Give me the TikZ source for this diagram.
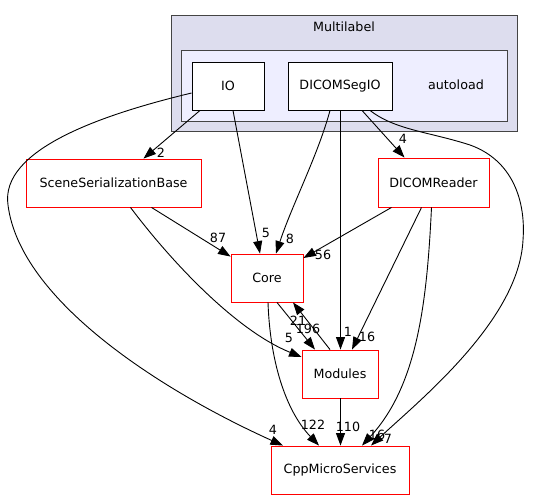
\documentclass[tikz,border=0pt]{standalone}
\usepackage{fontspec}
\setmainfont{DejaVu Sans}
\usetikzlibrary{arrows.meta}
\definecolor{outerfill}{HTML}{DDDDEE}
\definecolor{innerfill}{HTML}{EEEEFF}
\definecolor{clborder}{HTML}{444444}
\tikzset{
  txt/.style={font=\fontsize{12.7}{15}\selectfont, inner sep=0pt},
  dirbox/.style={txt, draw=red, fill=white, line width=0.9pt, minimum height=48pt},
  subbox/.style={txt, draw=black, fill=white, line width=0.9pt, minimum height=48pt},
  elabel/.style={txt},
  dep/.style={line width=0.9pt, -{Triangle[length=12.5pt,width=9pt]}},
}
\begin{document}
\begin{tikzpicture}[x=1pt,y=-1pt]
\useasboundingbox[fill=white] (0,0) rectangle (534,500);
% clusters
\draw[clborder, fill=outerfill, line width=1pt] (171,16) rectangle (517,131);
\node[txt] (multilabel) at (344,27) {Multilabel};
\draw[clborder, fill=innerfill, line width=1pt] (181,51) rectangle (507,121);
\node[txt] (autoload) at (456,85) {autoload};
% nodes
\node[subbox, minimum width=72pt] (io) at (228,86) {IO};
\node[subbox, minimum width=104pt] (dseg) at (340,86) {DICOMSegIO};
\node[dirbox, minimum width=175pt] (ssb) at (113.5,183) {SceneSerializationBase};
\node[dirbox, minimum width=111pt, minimum height=49pt] (dr) at (433.5,182.5) {DICOMReader};
\node[dirbox, minimum width=72pt] (core) at (267,278) {Core};
\node[dirbox, minimum width=76pt] (mod) at (340,374) {Modules};
\node[dirbox, minimum width=138pt] (cpp) at (340,470) {CppMicroServices};
% edges
\draw[dep] ([xshift=-28pt]io.south) -- ([xshift=30pt]ssb.north);
\draw[dep] ([xshift=5pt]io.south) -- ([xshift=-7pt]core.north);
\draw[dep] ([yshift=-7pt]io.west) .. controls (100,115) and (0,150) .. (8,205)
   .. controls (20,300) and (160,390) .. ([xshift=-57pt]cpp.north);
\draw[dep] ([xshift=-10pt]dseg.south) .. controls (318,155) and (292,205) .. ([xshift=9pt]core.north);
\draw[dep] ([xshift=0.5pt]dseg.south) -- ([xshift=0.5pt]mod.north);
\draw[dep] ([xshift=22pt]dseg.south) -- ([xshift=-29pt]dr.north);
\draw[dep] ([xshift=30pt]dseg.south) .. controls (395,130) and (430,132) .. (470,145)
   .. controls (512,160) and (526,200) .. (523,240)
   .. controls (519,320) and (420,400) .. ([xshift=31pt]cpp.north);
\draw[dep] ([xshift=38pt]ssb.south) -- ([yshift=-3pt]core.north west);
\draw[dep] ([xshift=17pt]ssb.south) .. controls (170,260) and (235,330) .. ([yshift=17pt]mod.west);
\draw[dep] ([xshift=-42pt]dr.south) -- ([yshift=20pt]core.east);
\draw[dep] ([xshift=-12pt]dr.south) -- ([xshift=12pt]mod.north);
\draw[dep] ([xshift=-2pt]dr.south) .. controls (427,300) and (418,385) .. ([xshift=22pt]cpp.north);
\draw[dep] ([xshift=10pt]core.south) -- ([xshift=-25pt]mod.north);
\draw[dep] ([xshift=-10pt]mod.north) -- ([xshift=26pt]core.south);
\draw[dep] ([xshift=1pt]core.south) .. controls (270,360) and (285,410) .. ([xshift=-21pt]cpp.north);
\draw[dep] ([xshift=0.5pt]mod.south) -- ([xshift=0.5pt]cpp.north);
% edge labels
\node[elabel] (l1) at (161,153) {2};
\node[elabel] (l2) at (266,233) {5};
\node[elabel] (l3) at (273,430) {4};
\node[elabel] (l4) at (290,239) {8};
\node[elabel] (l5) at (348,332) {1};
\node[elabel] (l6) at (403,139) {4};
\node[elabel] (l7) at (388,439) {7};
\node[elabel] (l8) at (218,238) {87};
\node[elabel] (l9) at (289,338) {5};
\node[elabel] (l10) at (323,255) {56};
\node[elabel] (l11) at (367,337) {16};
\node[elabel] (l12) at (377,435) {16};
\node[elabel] (l13) at (308,329) {196};
\node[elabel] (l14) at (298,321) {21};
\node[elabel] (l15) at (313,425) {122};
\node[elabel] (l16) at (348,427) {110};
\end{tikzpicture}
\end{document}
